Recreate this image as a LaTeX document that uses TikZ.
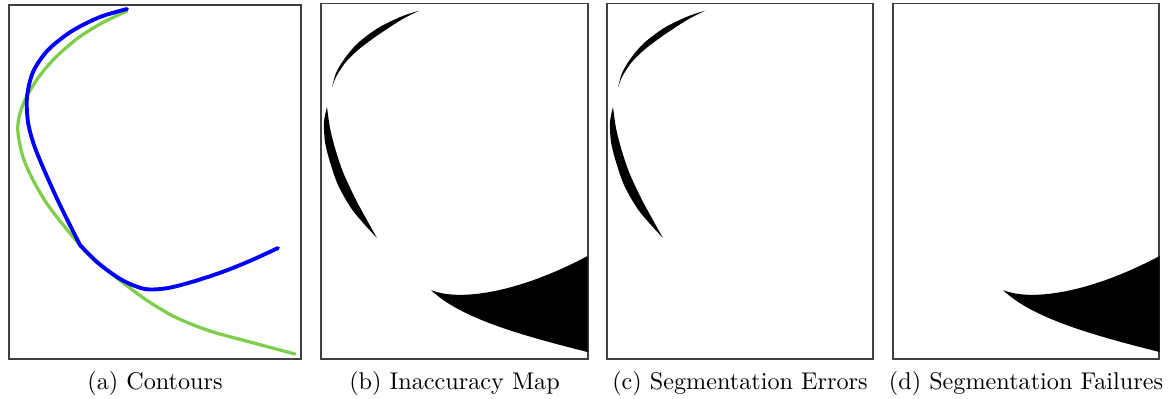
\documentclass[tikz,border=0pt]{standalone}
\usepackage{tikz}
\definecolor{gtgreen}{RGB}{126,206,76}

\begin{document}
\begin{tikzpicture}[x=0.41322pt,y=-0.41322pt,
    frame/.style={draw=black!75, line width=0.45pt},
    gtline/.style={draw=gtgreen, line width=1.35pt, line cap=round},
    segline/.style={draw=blue, line width=1.6pt, line cap=round, line join=round},
    errfill/.style={fill=black},
    caption/.style={anchor=base, inner sep=0pt}]
       \useasboundingbox (0,0) rectangle (1174,398);

       % panel frames
       \draw[frame] (9,5) rectangle (301,359);
       \draw[frame] (321,3.5) rectangle (588,359);
       \draw[frame] (607,3.5) rectangle (873,359);
       \draw[frame] (893,3.5) rectangle (1159,359);

       % (a) contours
       \draw[gtline] plot[smooth] coordinates {(127,11) (102,23) (78,38) (55,58) (38,78) (25,100) (19,117) (18,133) (23,157) (33,180) (50,208) (82,247) (112,274) (145,299) (175,317) (210,331) (250,342) (295,354)};
       \draw[segline] plot[smooth] coordinates {(127,9) (100,17) (72,31) (48,50) (33,72) (27,97) (28,122) (34,145) (45,172) (60,205) (80,245)}
              -- plot[smooth] coordinates {(80,245) (98,263) (122,280) (145,289) (168,288) (195,281) (225,271) (252,260) (278,248)};

       % (b), (c) crescents
       \foreach \dx in {0,286} {
         \begin{scope}[xshift=\dx*0.41322pt]
           \fill[errfill] plot[smooth] coordinates {(419,10.7) (401,16.7) (378,28) (358,43) (345,58) (336,73) (332,87.7)}
                 -- plot[smooth] coordinates {(332,87.7) (336,77) (345,63) (358,50) (378,35) (401,20) (419,10.7)} -- cycle;
           \fill[errfill] plot[smooth] coordinates {(327,107) (324,122) (325,142) (330,162) (338,185) (351,208) (365,225) (377,238)}
                 -- plot[smooth] coordinates {(377,238) (368,222) (355,198) (343,172) (335,148) (330,128) (327,107)} -- cycle;
         \end{scope}
       }

       % (b), (d) failure region
       \foreach \dx in {0,572} {
         \begin{scope}[xshift=\dx*0.41322pt]
           \fill[errfill] (431,290) .. controls (460,302) and (520,292) .. (587.5,256)
                 -- (587.5,352) .. controls (520,335) and (460,318) .. (431,290) -- cycle;
         \end{scope}
       }

       % captions
       \node[caption] (capA) at (155,389) {(a) Contours};
       \node[caption] (capB) at (454.5,389) {(b) Inaccuracy Map};
       \node[caption] (capC) at (740,389) {(c) Segmentation Errors};
       \node[caption] (capD) at (1026,389) {(d) Segmentation Failures};
\end{tikzpicture}
\end{document}
